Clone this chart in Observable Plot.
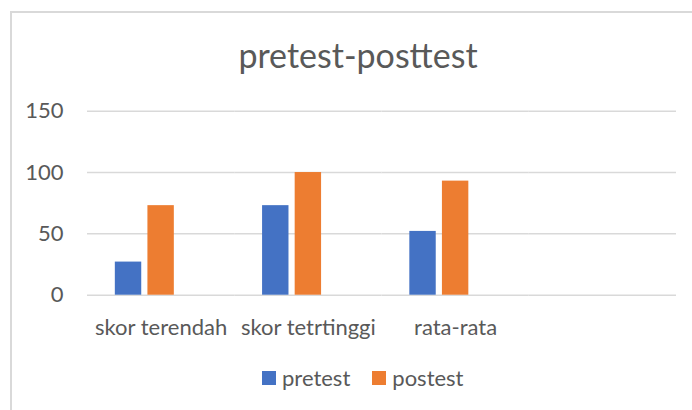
<!DOCTYPE html>
<html>
<head>
<meta charset="utf-8">
<script src="https://cdn.jsdelivr.net/npm/d3@7"></script>
<script src="https://cdn.jsdelivr.net/npm/@observablehq/plot@0.6"></script>
<style>
  html, body { margin: 0; padding: 0; background: #fff; }
  #wrap { position: relative; width: 692px; height: 410px; overflow: hidden; font-family: Lato, sans-serif; color: #595959; }
  #frame { position: absolute; left: 10px; top: 11px; width: 700px; height: 420px; border-left: 2px solid #d9d9d9; border-top: 2px solid #d9d9d9; box-sizing: border-box; }
  #chart { position: absolute; left: 0; top: 0; }
  #title { position: absolute; left: 0; width: 716px; top: 38px; text-align: center; font-size: 34px; line-height: 34px; white-space: nowrap; }
  #legend { position: absolute; left: 262px; top: 367px; display: flex; align-items: center; font-size: 22px; line-height: 22px; white-space: nowrap; }
  .sw { width: 14px; height: 14px; display: inline-block; margin-right: 6px; }
  .item { display: flex; align-items: center; margin-right: 22px; }
</style>
</head>
<body>
<div id="wrap">
  <div id="frame"></div>
  <div id="chart"></div>
  <div id="title"></div>
  <div id="legend"></div>
</div>
<script>
const titleText = "pretest-posttest";
const categories = ["skor terendah", "skor tetrtinggi", "rata-rata", ""];
const series = ["pretest", "postest"];
const emptySeries = "series3";
const colors = ["#4472C4", "#ED7D31"];
const pretest = [27, 73, 52];
const postest = [73, 100, 93];
const yTicks = [0, 50, 100, 150];

const bars = [];
categories.forEach((c, i) => {
  if (pretest[i] !== undefined) bars.push({category: c, series: "pretest", value: pretest[i]});
  if (postest[i] !== undefined) bars.push({category: c, series: "postest", value: postest[i]});
});
const grid = categories.flatMap(c => yTicks.map(t => ({category: c, tick: t})));

const chart = Plot.plot({
  width: 692,
  height: 345,
  marginLeft: 87,
  marginRight: 16,
  marginTop: 110.7,
  marginBottom: 50.3,
  style: {fontFamily: "Lato, sans-serif", fontSize: "22px", color: "#595959", background: "transparent"},
  fx: {domain: categories, padding: 0, round: false, label: null, tickSize: 0, tickPadding: 23.7},
  x: {domain: [...series, emptySeries], paddingInner: 0.19, paddingOuter: 0.8535, round: false, axis: null},
  y: {domain: [0, 150], ticks: yTicks, tickSize: 0, tickPadding: 24, label: null},
  color: {domain: series, range: colors},
  marks: [
    Plot.ruleY(grid, {fx: "category", y: "tick", stroke: "#d9d9d9", strokeWidth: 1.5}),
    Plot.barY(bars, {fx: "category", x: "series", y: "value", fill: "series"})
  ]
});
document.getElementById("chart").appendChild(chart);

document.getElementById("title").textContent = titleText;
const legend = document.getElementById("legend");
series.forEach((s, i) => {
  const item = document.createElement("span");
  item.className = "item";
  const sw = document.createElement("span");
  sw.className = "sw";
  sw.style.background = colors[i];
  item.appendChild(sw);
  item.appendChild(document.createTextNode(s));
  legend.appendChild(item);
});
</script>
</body>
</html>
